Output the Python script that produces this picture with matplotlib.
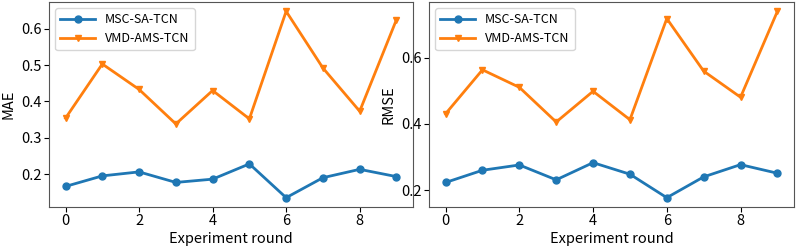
import matplotlib
matplotlib.use("Agg")
import matplotlib.pyplot as plt

plt.rcParams['font.family'] = ['Noto Sans CJK SC', 'DejaVu Sans']

# 实验轮次
rounds = list(range(10))

# MAE
mae_msc = [0.166, 0.195, 0.206, 0.177, 0.186, 0.228, 0.135, 0.190, 0.213, 0.193]
mae_vmd = [0.354, 0.503, 0.433, 0.338, 0.430, 0.352, 0.648, 0.492, 0.373, 0.625]

# RMSE
rmse_msc = [0.223, 0.260, 0.276, 0.231, 0.283, 0.248, 0.177, 0.240, 0.277, 0.251]
rmse_vmd = [0.431, 0.564, 0.511, 0.406, 0.499, 0.413, 0.719, 0.560, 0.481, 0.741]

fig = plt.figure(figsize=(7.96, 2.46), dpi=100)
ax1 = fig.add_axes([49 / 796, 1 - 207 / 246, 364 / 796, 205 / 246])
ax2 = fig.add_axes([429 / 796, 1 - 207 / 246, 365 / 796, 205 / 246])

for ax, msc, vmd, name in [(ax1, mae_msc, mae_vmd, "MAE"),
                           (ax2, rmse_msc, rmse_vmd, "RMSE")]:
    ax.plot(rounds, msc, marker='o', markersize=5, linewidth=2, label="MSC-SA-TCN")
    ax.plot(rounds, vmd, marker='v', markersize=5, linewidth=2, label="VMD-AMS-TCN")
    ax.set_xlabel("Experiment round", fontsize=10.5, va='baseline')
    ax.set_ylabel(name, fontsize=10.5, va='center')
    ax.xaxis.set_label_coords(0.5, -0.175)
    ax.yaxis.set_label_coords(-41 / ax.get_position().width / 796, 0.5)
    ax.tick_params(labelsize=10.5, pad=1.5)
    ax.set_xticks([0, 2, 4, 6, 8])
    ax.legend(loc='upper left', fontsize=9, handlelength=2.8)
    for s in ax.spines.values():
        s.set_color('#555555')

ax2.set_yticks([0.2, 0.4, 0.6])

fig.savefig("out.png", dpi=100)
